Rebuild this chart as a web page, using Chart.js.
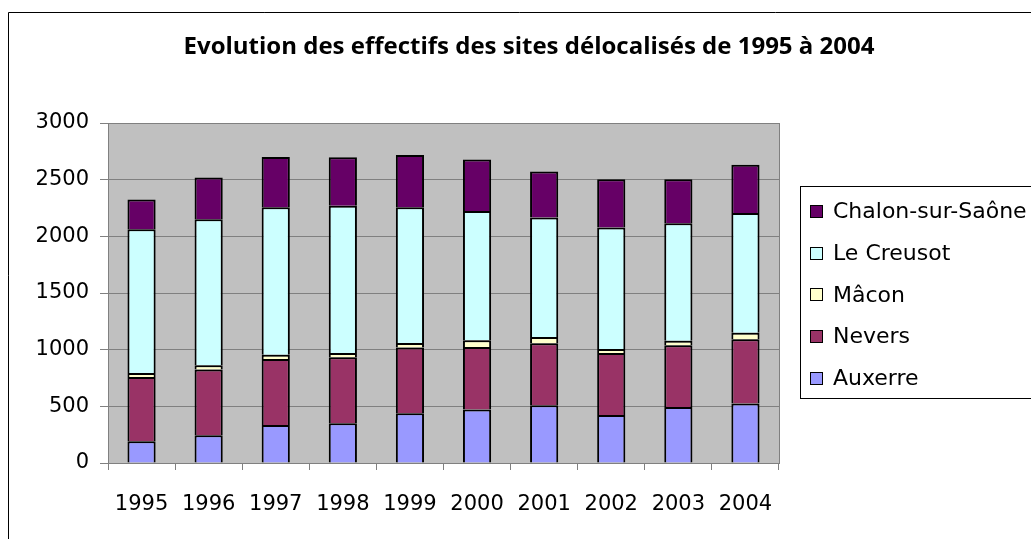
<!DOCTYPE html>
<html>
<head>
<meta charset="utf-8">
<script src="https://cdn.jsdelivr.net/npm/chart.js@4.4.1/dist/chart.umd.min.js"></script>
<style>
  html, body { margin: 0; padding: 0; background: #fff; }
  #wrap { width: 1031px; height: 539px; position: relative; }
</style>
</head>
<body>
<div id="wrap"><canvas id="chart"></canvas></div>
<script>
const years = ['1995', '1996', '1997', '1998', '1999', '2000', '2001', '2002', '2003', '2004'];
const auxerre = [191, 244, 335, 350, 438, 473, 509, 424, 494, 526];
const nevers = [568, 582, 583, 582, 582, 551, 547, 547, 544, 565];
const macon = [35, 36, 38, 39, 39, 58, 56, 35, 41, 59];
const creusot = [1268, 1288, 1300, 1299, 1197, 1141, 1055, 1073, 1036, 1056];
const chalon = [264, 370, 444, 427, 461, 456, 406, 424, 388, 426];
const yTicks = [0, 500, 1000, 1500, 2000, 2500, 3000];
const titleText = 'Evolution des effectifs des sites délocalisés de 1995 à 2004';

const tickFont = { family: 'DejaVu Sans', size: 21 };

// fond gris, cadre, titre et légende
const decor = {
  id: 'decor',
  beforeDraw(chart) {
    const ctx = chart.ctx;
    const a = chart.chartArea;
    ctx.save();
    ctx.fillStyle = '#fff';
    ctx.fillRect(0, 0, chart.width, chart.height);
    ctx.strokeStyle = '#000';
    ctx.lineWidth = 1;
    ctx.beginPath();
    ctx.moveTo(8.5, chart.height);
    ctx.lineTo(8.5, 12.5);
    ctx.lineTo(chart.width, 12.5);
    ctx.stroke();
    ctx.fillStyle = '#c0c0c0';
    ctx.fillRect(a.left, a.top, a.right - a.left, a.bottom - a.top);
    ctx.restore();
  },
  beforeDatasetsDraw(chart) {
    const ctx = chart.ctx;
    const a = chart.chartArea;
    ctx.save();
    ctx.strokeStyle = '#808080';
    ctx.lineWidth = 1;
    ctx.beginPath();
    ctx.moveTo(Math.round(a.right) + 0.5, a.top);
    ctx.lineTo(Math.round(a.right) + 0.5, a.bottom);
    ctx.stroke();
    ctx.restore();
  },
  afterDraw(chart) {
    const ctx = chart.ctx;
    ctx.save();
    ctx.fillStyle = '#000';
    ctx.font = 'bold 24px "Open Sans"';
    ctx.textAlign = 'center';
    ctx.textBaseline = 'middle';
    ctx.fillText(titleText, 529, 47);

    ctx.strokeStyle = '#000';
    ctx.lineWidth = 1;
    ctx.strokeRect(800.5, 186.5, 400, 212);
    const ds = chart.data.datasets.slice().reverse();
    ctx.font = '22px "DejaVu Sans"';
    ctx.textAlign = 'left';
    ds.forEach((d, i) => {
      const y = 211.5 + i * 41.7;
      ctx.fillStyle = d.backgroundColor;
      ctx.fillRect(810, Math.round(y - 6.5), 13, 13);
      ctx.strokeRect(810.5, Math.round(y - 6.5) + 0.5, 12, 12);
      ctx.fillStyle = '#000';
      ctx.fillText(d.label, 833, y + 1);
    });
    ctx.restore();
  }
};

function ds(label, data, color) {
  return {
    label: label,
    data: data,
    backgroundColor: color,
    borderColor: '#000',
    borderWidth: 2,
    barPercentage: 0.42,
    categoryPercentage: 1
  };
}

new Chart(document.getElementById('chart'), {
  type: 'bar',
  data: {
    labels: years,
    datasets: [
      ds('Auxerre', auxerre, '#9999ff'),
      ds('Nevers', nevers, '#993366'),
      ds('Mâcon', macon, '#ffffcc'),
      ds('Le Creusot', creusot, '#ccffff'),
      ds('Chalon-sur-Saône', chalon, '#660066')
    ]
  },
  options: {
    responsive: true,
    maintainAspectRatio: false,
    animation: false,
    layout: { padding: { top: 123, right: 252, bottom: 22, left: 0 } },
    plugins: {
      legend: { display: false },
      title: { display: false },
      tooltip: { enabled: false }
    },
    scales: {
      x: {
        stacked: true,
        afterFit(scale) { scale.height = 54; },
        grid: {
          offset: true,
          drawOnChartArea: false,
          tickLength: 7,
          color: '#808080'
        },
        border: { color: '#808080', width: 1 },
        ticks: { color: '#000', font: tickFont, padding: 22, maxRotation: 0 }
      },
      y: {
        stacked: true,
        min: 0,
        max: 3000,
        afterFit(scale) { scale.width = 108; },
        afterBuildTicks(scale) { scale.ticks = yTicks.map(v => ({ value: v })); },
        grid: { color: '#808080', tickLength: 8 },
        border: { color: '#808080', width: 1 },
        ticks: { color: '#000', font: tickFont, padding: 11, callback: v => String(v) }
      }
    }
  },
  plugins: [decor]
});
</script>
</body>
</html>
